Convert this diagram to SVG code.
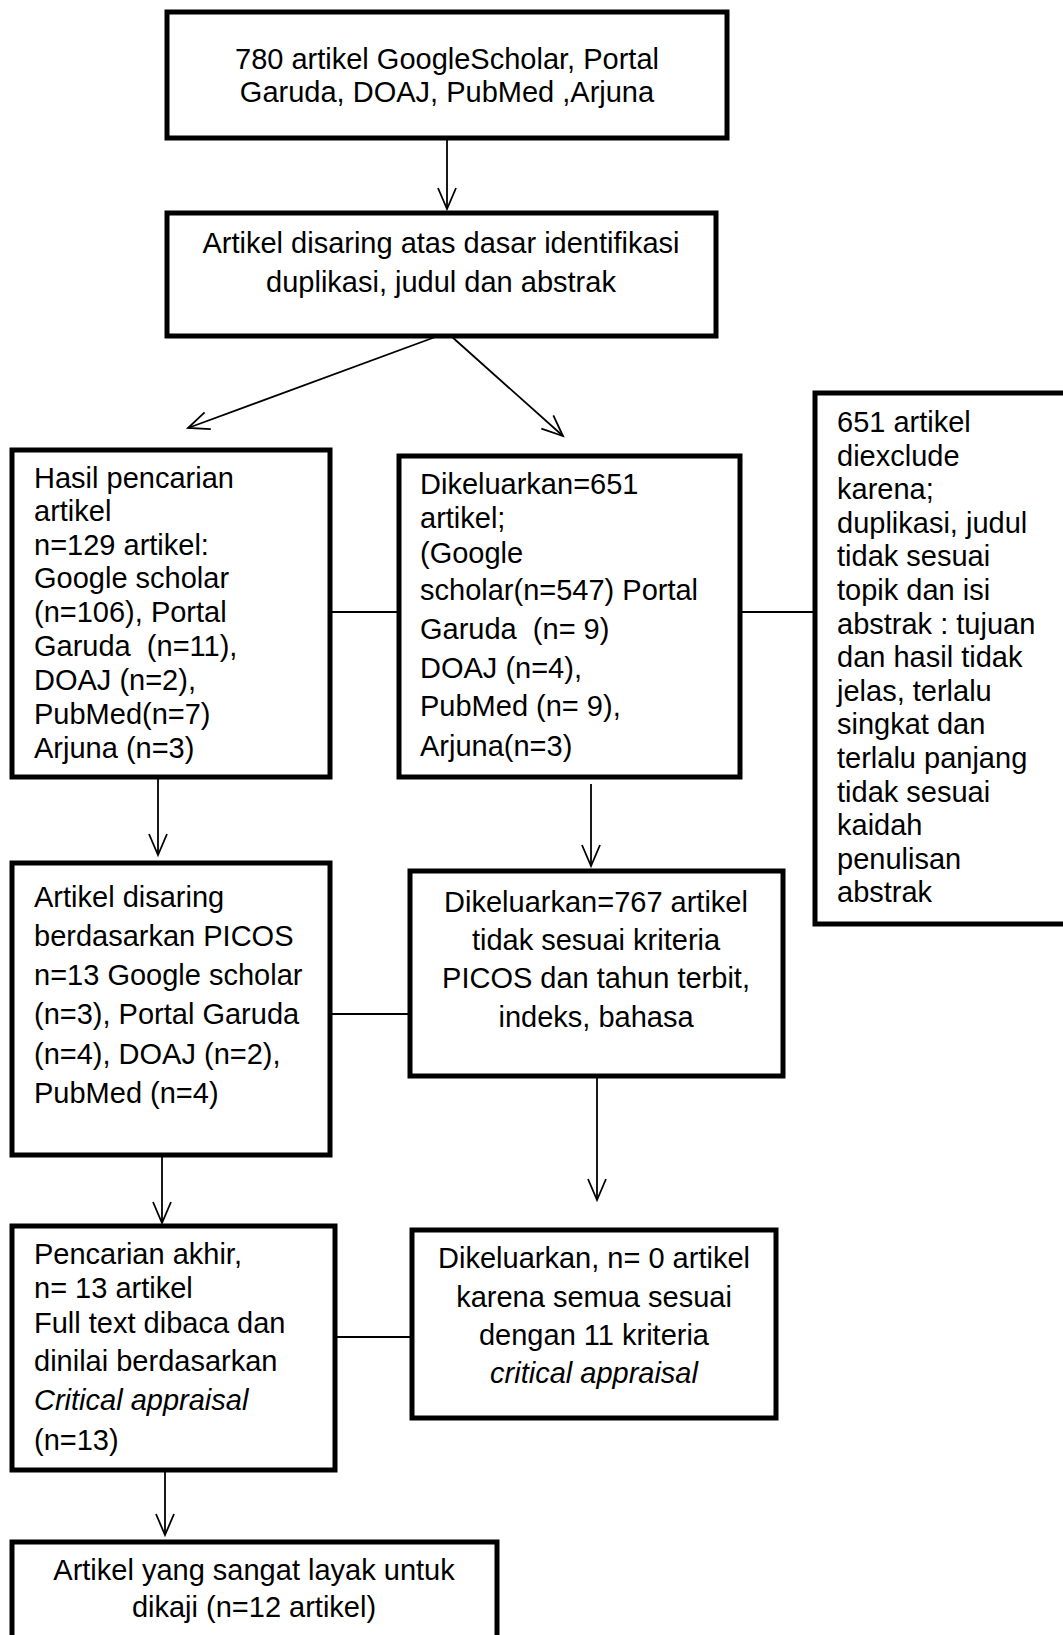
<svg xmlns="http://www.w3.org/2000/svg" width="1063" height="1635" viewBox="0 0 1063 1635">
<style>
.box{fill:#fff;stroke:#000;stroke-width:5}
.t{font-family:"Liberation Sans",Arial,sans-serif;font-size:29px;fill:#000;white-space:pre}
.c{text-anchor:middle}
.i{font-style:italic}
.ln{stroke:#000;stroke-width:1.8;fill:none}
</style>
<defs>
<marker id="ah" markerUnits="userSpaceOnUse" orient="auto" overflow="visible" refX="0" refY="0" markerWidth="1" markerHeight="1">
<path d="M -21 -9 L 0 0 L -21 9" fill="none" stroke="#000" stroke-width="1.8"/>
</marker>
</defs>
<rect width="1063" height="1635" fill="#fff"/>
<g id="connectors">
<line class="ln" x1="447" y1="138" x2="447" y2="209" marker-end="url(#ah)"/>
<line class="ln" x1="438" y1="336" x2="188" y2="428" marker-end="url(#ah)"/>
<line class="ln" x1="451" y1="336" x2="563" y2="436" marker-end="url(#ah)"/>
<line class="ln" x1="331" y1="612" x2="398" y2="612"/>
<line class="ln" x1="741" y1="612" x2="813" y2="612"/>
<line class="ln" x1="158" y1="777" x2="158" y2="855" marker-end="url(#ah)"/>
<line class="ln" x1="591" y1="784" x2="591" y2="866" marker-end="url(#ah)"/>
<line class="ln" x1="331" y1="1014" x2="409" y2="1014"/>
<line class="ln" x1="162" y1="1156" x2="162" y2="1223" marker-end="url(#ah)"/>
<line class="ln" x1="597" y1="1077" x2="597" y2="1200" marker-end="url(#ah)"/>
<line class="ln" x1="336" y1="1337" x2="410" y2="1337"/>
<line class="ln" x1="165" y1="1471" x2="165" y2="1535" marker-end="url(#ah)"/>
</g>
<g id="n1">
<rect class="box" x="167" y="12" width="560" height="126"/>
<text class="t c" x="447" y="69">780 artikel GoogleScholar, Portal</text>
<text class="t c" x="447" y="102">Garuda, DOAJ, PubMed ,Arjuna</text>
</g>
<g id="n2">
<rect class="box" x="167" y="213" width="549" height="123"/>
<text class="t c" x="441" y="253">Artikel disaring atas dasar identifikasi</text>
<text class="t c" x="441" y="292">duplikasi, judul dan abstrak</text>
</g>
<g id="n3">
<rect class="box" x="12" y="450" width="318" height="327"/>
<text class="t" x="34" y="488">Hasil pencarian</text>
<text class="t" x="34" y="521">artikel</text>
<text class="t" x="34" y="555">n=129 artikel:</text>
<text class="t" x="34" y="588">Google scholar</text>
<text class="t" x="34" y="622">(n=106), Portal</text>
<text class="t" x="34" y="656">Garuda  (n=11),</text>
<text class="t" x="34" y="690">DOAJ (n=2),</text>
<text class="t" x="34" y="724">PubMed(n=7)</text>
<text class="t" x="34" y="758">Arjuna (n=3)</text>
</g>
<g id="n4">
<rect class="box" x="399" y="456" width="341" height="321"/>
<text class="t" x="420" y="494">Dikeluarkan=651</text>
<text class="t" x="420" y="528">artikel;</text>
<text class="t" x="420" y="563">(Google</text>
<text class="t" x="420" y="600">scholar(n=547) Portal</text>
<text class="t" x="420" y="639">Garuda  (n= 9)</text>
<text class="t" x="420" y="678">DOAJ (n=4),</text>
<text class="t" x="420" y="716">PubMed (n= 9),</text>
<text class="t" x="420" y="756">Arjuna(n=3)</text>
</g>
<g id="n5">
<rect class="box" x="815" y="393" width="270" height="531"/>
<text class="t" x="837" y="432">651 artikel</text>
<text class="t" x="837" y="465.6">diexclude</text>
<text class="t" x="837" y="499.2">karena;</text>
<text class="t" x="837" y="532.8">duplikasi, judul</text>
<text class="t" x="837" y="566.4">tidak sesuai</text>
<text class="t" x="837" y="600">topik dan isi</text>
<text class="t" x="837" y="633.6">abstrak : tujuan</text>
<text class="t" x="837" y="667.2">dan hasil tidak</text>
<text class="t" x="837" y="700.8">jelas, terlalu</text>
<text class="t" x="837" y="734.4">singkat dan</text>
<text class="t" x="837" y="768">terlalu panjang</text>
<text class="t" x="837" y="801.6">tidak sesuai</text>
<text class="t" x="837" y="835.2">kaidah</text>
<text class="t" x="837" y="868.8">penulisan</text>
<text class="t" x="837" y="902.4">abstrak</text>
</g>
<g id="n6">
<rect class="box" x="12" y="863" width="318" height="292"/>
<text class="t" x="34" y="907">Artikel disaring</text>
<text class="t" x="34" y="946">berdasarkan PICOS</text>
<text class="t" x="34" y="985">n=13 Google scholar</text>
<text class="t" x="34" y="1024">(n=3), Portal Garuda</text>
<text class="t" x="34" y="1064">(n=4), DOAJ (n=2),</text>
<text class="t" x="34" y="1103">PubMed (n=4)</text>
</g>
<g id="n7">
<rect class="box" x="410" y="871" width="373" height="205"/>
<text class="t c" x="596" y="912">Dikeluarkan=767 artikel</text>
<text class="t c" x="596" y="950">tidak sesuai kriteria</text>
<text class="t c" x="596" y="988">PICOS dan tahun terbit,</text>
<text class="t c" x="596" y="1027">indeks, bahasa</text>
</g>
<g id="n8">
<rect class="box" x="12" y="1226" width="323" height="244"/>
<text class="t" x="34" y="1264">Pencarian akhir,</text>
<text class="t" x="34" y="1298">n= 13 artikel</text>
<text class="t" x="34" y="1333">Full text dibaca dan</text>
<text class="t" x="34" y="1371">dinilai berdasarkan</text>
<text class="t i" x="34" y="1410">Critical appraisal</text>
<text class="t" x="34" y="1450">(n=13)</text>
</g>
<g id="n9">
<rect class="box" x="412" y="1230" width="364" height="188"/>
<text class="t c" x="594" y="1268">Dikeluarkan, n= 0 artikel</text>
<text class="t c" x="594" y="1307">karena semua sesuai</text>
<text class="t c" x="594" y="1345">dengan 11 kriteria</text>
<text class="t c i" x="594" y="1383">critical appraisal</text>
</g>
<g id="n10">
<rect class="box" x="12" y="1542" width="485" height="110"/>
<text class="t c" x="254" y="1580">Artikel yang sangat layak untuk</text>
<text class="t c" x="254" y="1617">dikaji (n=12 artikel)</text>
</g>
</svg>
